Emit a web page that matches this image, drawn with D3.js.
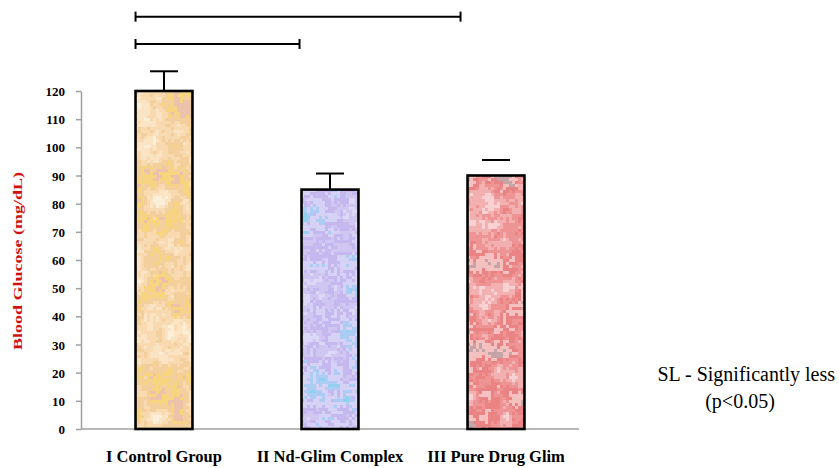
<!DOCTYPE html>
<html>
<head>
<meta charset="utf-8">
<script src="https://cdn.jsdelivr.net/npm/d3@7"></script>
<style>
  body { margin: 0; background: #fff; }
  svg { display: block; }
  text { font-family: "Liberation Serif", "Times New Roman", serif; }
</style>
</head>
<body>
<div id="chart"></div>
<script>
// data
const categories = ["I Control Group", "II Nd-Glim Complex", "III Pure Drug Glim"];
const means = [120, 85, 90];
const errors = [7, 5.7, 5.5];
const stemShown = [true, true, false];
const yTicks = [0, 10, 20, 30, 40, 50, 60, 70, 80, 90, 100, 110, 120];
const bracketFrom = [0, 0];
const bracketTo = [2, 1];
const bracketLevel = [146.4, 136.7];
const noteLines = ["SL - Significantly less", "(p<0.05)"];

// mottled fills, one palette per bar
const palettes = [
  ["#faefd9", "#fbe4c4", "#f9dab0", "#f2cf9c", "#f6d57e", "#ecc2aa"],
  ["#dcd8f6", "#cfc6f2", "#c4b8ee", "#d6d2f6", "#acccf4", "#92d0f0"],
  ["#f8d2d2", "#f3b0b0", "#ee9494", "#ea8484", "#f5c0c0", "#c4a4a6"]
];

const W = 839, H = 468;
const svg = d3.select("#chart").append("svg")
  .attr("width", W)
  .attr("height", H);

const x = d3.scaleBand()
  .domain(d3.range(categories.length))
  .range([81, 579])
  .paddingInner(0.657)
  .paddingOuter(0.3285);

const y = d3.scaleLinear()
  .domain([0, 120])
  .range([429, 91]);

// axes
const yAxis = svg.append("g")
  .attr("transform", "translate(81,0)")
  .call(d3.axisLeft(y).tickValues(yTicks).tickSize(5).tickSizeOuter(0).tickPadding(11));
yAxis.attr("font-family", null);
yAxis.select(".domain").attr("stroke", "#a0a0a0").attr("stroke-width", 1.5);
yAxis.selectAll(".tick line").attr("stroke", "#a0a0a0").attr("stroke-width", 1.5);
yAxis.selectAll(".tick text")
  .attr("font-weight", "bold")
  .attr("font-size", 13)
  .attr("fill", "#000")
  .attr("dy", "0.35em");

svg.append("line")
  .attr("x1", 81).attr("x2", 579)
  .attr("y1", y(0)).attr("y2", y(0))
  .attr("stroke", "#a0a0a0")
  .attr("stroke-width", 1.5);

svg.append("text")
  .attr("transform", `translate(22,261) rotate(-90)`)
  .attr("text-anchor", "middle")
  .attr("font-weight", "bold")
  .attr("font-size", 13)
  .attr("fill", "#d01010")
  .attr("textLength", 178)
  .attr("lengthAdjust", "spacingAndGlyphs")
  .text("Blood Glucose (mg/dL)");

// texture helpers
const hash = function (i, j, s) {
  let h = (i * 374761393 + j * 668265263 + s * 982451653) | 0;
  h = (h ^ (h >>> 13)) * 1274126177;
  h = h ^ (h >>> 16);
  return ((h >>> 0) % 10000) / 10000;
}
const smooth = function (px, py, cell, s) {
  const gx = px / cell, gy = py / cell;
  const i = Math.floor(gx), j = Math.floor(gy);
  let fx = gx - i, fy = gy - j;
  fx = fx * fx * (3 - 2 * fx);
  fy = fy * fy * (3 - 2 * fy);
  const a = hash(i, j, s), b = hash(i + 1, j, s), c = hash(i, j + 1, s), d = hash(i + 1, j + 1, s);
  const top = a + (b - a) * fx, bot = c + (d - c) * fx;
  return top + (bot - top) * fy;
}

const defs = svg.append("defs");
const cell = 3;

categories.forEach(function (cat, k) {
  const bx = x(k), bw = x.bandwidth();
  const by = y(means[k]), bh = y(0) - y(means[k]);
  defs.append("clipPath").attr("id", "clip" + k)
    .append("rect").attr("x", bx).attr("y", by).attr("width", bw).attr("height", bh);

  const g = svg.append("g").attr("clip-path", `url(#clip${k})`);
  const pal = palettes[k];
  const cells = [];
  for (let cy = Math.floor(by); cy < y(0); cy += cell) {
    for (let cx = Math.floor(bx); cx < bx + bw; cx += cell) {
      const v = 0.55 * smooth(cx, cy, 22, k + 1) + 0.3 * smooth(cx, cy, 8, k + 11) + 0.15 * hash(cx, cy, k + 7);
      const idx = Math.max(0, Math.min(pal.length - 1, Math.floor((v - 0.15) / 0.7 * pal.length)));
      cells.push({ x: cx, y: cy, c: pal[idx] });
    }
  }
  g.selectAll("rect").data(cells).join("rect")
    .attr("x", d => d.x).attr("y", d => d.y)
    .attr("width", cell + 0.2).attr("height", cell + 0.2)
    .attr("fill", d => d.c);
});

// bar outlines
svg.append("g").selectAll("rect")
  .data(means)
  .join("rect")
  .attr("x", (d, i) => x(i))
  .attr("y", d => y(d))
  .attr("width", x.bandwidth())
  .attr("height", d => y(0) - y(d))
  .attr("fill", "none")
  .attr("stroke", "#000")
  .attr("stroke-width", 2.6);

// error bars
const err = svg.append("g").attr("stroke", "#000").attr("stroke-width", 2);
means.forEach(function (m, i) {
  const cx = x(i) + x.bandwidth() / 2;
  if (stemShown[i]) {
    err.append("line")
      .attr("x1", cx).attr("x2", cx)
      .attr("y1", y(m)).attr("y2", y(m + errors[i]));
  }
  err.append("line")
    .attr("x1", cx - 14).attr("x2", cx + 14)
    .attr("y1", y(m + errors[i])).attr("y2", y(m + errors[i]));
});

// significance brackets
const br = svg.append("g").attr("stroke", "#000").attr("stroke-width", 2);
bracketLevel.forEach(function (lv, i) {
  const x1 = x(bracketFrom[i]), x2 = x(bracketTo[i]) - (bracketTo[i] == 2 ? 7 : 2);
  const yy = y(lv);
  br.append("line").attr("x1", x1).attr("x2", x2).attr("y1", yy).attr("y2", yy);
  br.append("line").attr("x1", x1).attr("x2", x1).attr("y1", yy - 5).attr("y2", yy + 5);
  br.append("line").attr("x1", x2).attr("x2", x2).attr("y1", yy - 5).attr("y2", yy + 5);
});

// category labels
svg.append("g").selectAll("text")
  .data(categories)
  .join("text")
  .attr("x", (d, i) => x(i) + x.bandwidth() / 2)
  .attr("y", 462)
  .attr("text-anchor", "middle")
  .attr("font-weight", "bold")
  .attr("font-size", 16.5)
  .text(d => d);

// note on the right
svg.append("g").selectAll("text")
  .data(noteLines)
  .join("text")
  .attr("x", (d, i) => i == 0 ? 835 : 740)
  .attr("y", (d, i) => 381 + i * 27)
  .attr("text-anchor", (d, i) => i == 0 ? "end" : "middle")
  .attr("font-size", 20)
  .text(d => d);
</script>
</body>
</html>
